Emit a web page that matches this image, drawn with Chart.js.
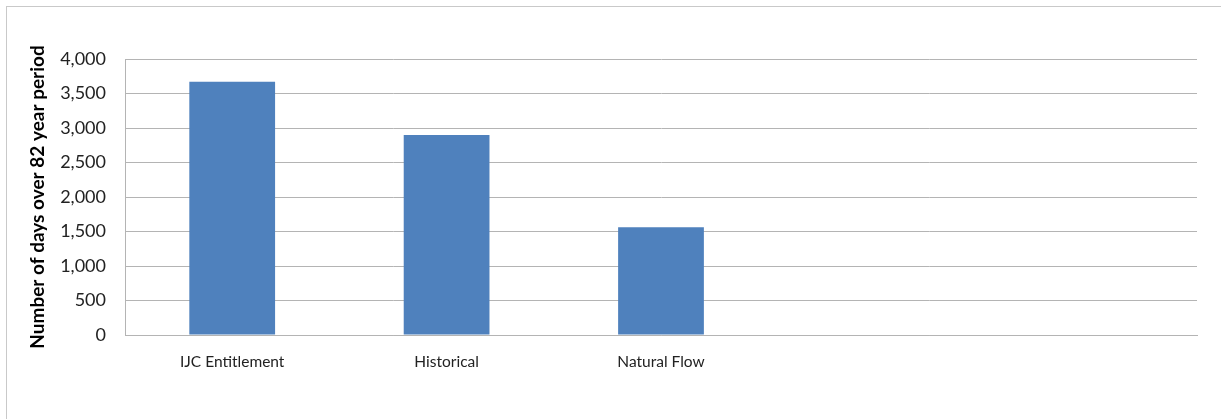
<!DOCTYPE html>
<html>
<head>
<meta charset="utf-8">
<script src="https://cdn.jsdelivr.net/npm/chart.js@4/dist/chart.umd.min.js"></script>
<style>
  html, body { margin: 0; padding: 0; background: #ffffff; overflow: hidden; }
  #wrap { position: relative; width: 1221px; height: 419px; }
  #frame { position: absolute; left: 6px; top: 6px; width: 1400px; height: 600px;
           border-top: 1px solid #c9c9c9; border-left: 1px solid #c9c9c9; box-sizing: border-box; }
  #chart { position: absolute; left: 0; top: 0; }
</style>
</head>
<body>
<div id="wrap">
  <div id="frame"></div>
  <canvas id="chart" width="1221" height="419"></canvas>
</div>
<script>
// Scenario categories (the last two slots are left empty)
const categories = ['IJC Entitlement', 'Historical', 'Natural Flow', '', ''];
// Number of days over the 82 year period, per scenario
const daysOver = [3670, 2900, 1560, null, null];
// Value axis
const yTicks = [0, 500, 1000, 1500, 2000, 2500, 3000, 3500, 4000];
const yTitle = 'Number of days over 82 year period';

const fontFamily = 'Lato, "Open Sans", "Liberation Sans", sans-serif';
const gridGray = '#b4b4b4';

new Chart(document.getElementById('chart'), {
  type: 'bar',
  data: {
    labels: categories,
    datasets: [{
      data: daysOver,
      backgroundColor: '#4f81bd',
      borderWidth: 0,
      categoryPercentage: 1.0,
      barPercentage: 0.4
    }]
  },
  options: {
    responsive: false,
    animation: false,
    events: [],
    layout: { padding: { top: 59, right: 24, left: 0, bottom: 0 } },
    plugins: { legend: { display: false }, tooltip: { enabled: false } },
    scales: {
      x: {
        grid: { display: false },
        border: { display: true, color: gridGray, width: 1 },
        ticks: {
          color: '#222222',
          font: { family: fontFamily, size: 15.5 },
          padding: 10,
          maxRotation: 0,
          autoSkip: false
        },
        afterFit: (s) => { s.height = 84; }
      },
      y: {
        min: yTicks[0],
        max: yTicks[yTicks.length - 1],
        afterBuildTicks: (s) => { s.ticks = yTicks.map(v => ({ value: v })); },
        grid: { color: gridGray, lineWidth: 1, drawTicks: false },
        border: { display: true, color: gridGray, width: 1 },
        ticks: {
          color: '#222222',
          font: { family: fontFamily, size: 18 },
          padding: 19,
          callback: (v) => Number(v).toLocaleString('en-US')
        },
        title: {
          display: true,
          text: yTitle,
          color: '#000000',
          font: { family: fontFamily, size: 19, weight: 'bold' },
          padding: { top: 26, bottom: 0 }
        },
        afterFit: (s) => { s.width = 125; }
      }
    }
  }
});
</script>
</body>
</html>
